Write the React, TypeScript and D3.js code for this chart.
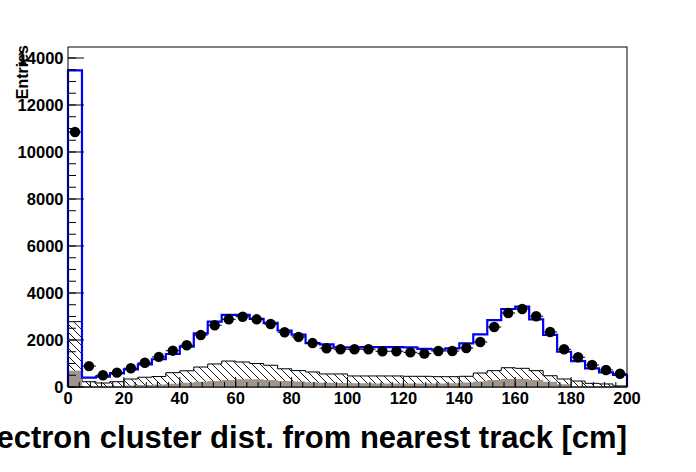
import React from 'react';
import * as d3 from 'd3';

// 40 bins of width 5 cm, from 0 to 200
const binWidth = 5;
const binLow = d3.range(0, 200, binWidth);

// Data points (black markers)
const dataCounts = [
  10850, 890, 500, 610, 800, 1030, 1280, 1545, 1775, 2210,
  2625, 2880, 2990, 2880, 2680, 2330, 2130, 1870, 1650, 1605,
  1605, 1605, 1520, 1520, 1475, 1420, 1530, 1530, 1660, 1915,
  2555, 3150, 3320, 3010, 2340, 1605, 1265, 935, 725, 565,
];

// Total simulation (blue outline)
const mcTotal = [
  13470, 400, 440, 580, 750, 965, 1180, 1405, 1715, 2285,
  2780, 3065, 3065, 2895, 2725, 2405, 2225, 1870, 1810, 1690,
  1690, 1700, 1700, 1700, 1690, 1620, 1595, 1645, 1860, 2240,
  2850, 3320, 3420, 2880, 2215, 1500, 1105, 795, 625, 510,
];

// Bottom component (grey-brown fill)
const brownComp = [
  695, 25, 25, 35, 60, 80, 110, 140, 180, 220,
  260, 300, 330, 330, 300, 260, 230, 200, 180, 165,
  160, 155, 150, 150, 150, 150, 150, 160, 190, 230,
  300, 340, 340, 300, 220, 120, 40, 20, 10, 5,
];

// Hatched component stacked on the brown one
const hatchedComp = [
  2085, 200, 145, 190, 280, 335, 335, 470, 510, 630,
  720, 805, 735, 670, 625, 515, 470, 440, 375, 390,
  310, 315, 320, 320, 305, 305, 290, 280, 265, 365,
  395, 480, 455, 395, 260, 220, 215, 135, 120, 40,
];

const xMajorTicks = [0, 20, 40, 60, 80, 100, 120, 140, 160, 180, 200];
const yMajorTicks = [0, 2000, 4000, 6000, 8000, 10000, 12000, 14000];

const xTitle = 'Electron cluster dist. from nearest track [cm]';
const yTitle = 'Entries';

const W = 696;
const H = 472;
const L = 68, R = 627, T = 47, B = 387;
const FONT = "'Liberation Sans', Arial, Helvetica, sans-serif";

export default function App() {
  const x = d3.scaleLinear().domain([0, 200]).range([L, R]);
  const y = d3.scaleLinear().domain([0, 14468]).range([B, T]);

  const rows = binLow.map((lo, i) => ({ lo, brown: brownComp[i], hatched: hatchedComp[i] }));
  const stack = d3.stack<any>().keys(['brown', 'hatched'])(rows);
  const totalTop = stack[1].map((s) => s[1]);
  const brownTop = stack[0].map((s) => s[1]);

  const stepPath = (vals: number[]) => {
    const pts: [number, number][] = [[x(0), y(0)]];
    vals.forEach((v, i) => {
      pts.push([x(binLow[i]), y(v)]);
      pts.push([x(binLow[i] + binWidth), y(v)]);
    });
    pts.push([x(200), y(0)]);
    return d3.line()(pts) as string;
  };
  const areaPath = (vals: number[]) => stepPath(vals) + 'Z';

  const xMinor = d3.range(0, 200.01, 4);
  const yMinor = d3.range(0, 14468, 500);

  return (
    <svg width={W} height={H} style={{ position: 'absolute', left: 0, top: 0, background: 'white' }}
      fontFamily={FONT} fontWeight="bold">
      <defs>
        <pattern id="hatch" patternUnits="userSpaceOnUse" width="8" height="8">
          <path d="M-2,-2 L10,10 M-2,6 L2,10 M6,-2 L10,2" stroke="black" strokeWidth="0.9" fill="none" />
        </pattern>
      </defs>
      <rect x={0} y={0} width={W} height={H} fill="white" />

      {/* hatched stacked total */}
      <path d={areaPath(totalTop)} fill="white" />
      <path d={areaPath(totalTop)} fill="url(#hatch)" stroke="black" strokeWidth={1} />
      {/* brown bottom component */}
      <path d={areaPath(brownTop)} fill="#a0958b" stroke="none" />

      {/* MC total */}
      <path d={stepPath(mcTotal)} fill="none" stroke="#0000ff" strokeWidth={2.2} />

      {/* data points */}
      {dataCounts.map((v, i) => {
        const cx = x(binLow[i] + binWidth / 2);
        const cy = y(v);
        const err = Math.sqrt(v);
        return (
          <g key={i}>
            <line x1={x(binLow[i])} x2={x(binLow[i] + binWidth)} y1={cy} y2={cy} stroke="black" strokeWidth={1} />
            <line x1={cx} x2={cx} y1={y(v - err)} y2={y(v + err)} stroke="black" strokeWidth={1} />
            <circle cx={cx} cy={cy} r={5.2} fill="black" />
          </g>
        );
      })}

      {/* frame */}
      <rect x={L} y={T} width={R - L} height={B - T} fill="none" stroke="black" strokeWidth={1} />

      {/* x ticks */}
      {xMinor.map((t) => (
        <line key={'xm' + t} x1={x(t)} x2={x(t)} y1={B} y2={B - 5} stroke="black" strokeWidth={1} />
      ))}
      {xMajorTicks.map((t) => (
        <g key={'xM' + t}>
          <line x1={x(t)} x2={x(t)} y1={B} y2={B - 10} stroke="black" strokeWidth={1} />
          <text x={x(t)} y={404} textAnchor="middle" fontSize={16.5}>{t}</text>
        </g>
      ))}

      {/* y ticks */}
      {yMinor.map((t) => (
        <line key={'ym' + t} x1={L} x2={L + 8} y1={y(t)} y2={y(t)} stroke="black" strokeWidth={1} />
      ))}
      {yMajorTicks.map((t) => (
        <g key={'yM' + t}>
          <line x1={L} x2={L + 16} y1={y(t)} y2={y(t)} stroke="black" strokeWidth={1} />
          <text x={63.5} y={y(t) + 6} textAnchor="end" fontSize={16.5}>{t}</text>
        </g>
      ))}

      {/* titles */}
      <text x={R} y={448} textAnchor="end" fontSize={31}>{xTitle}</text>
      <text transform={`translate(28,45) rotate(-90)`} textAnchor="end" fontSize={16}>{yTitle}</text>
    </svg>
  );
}
